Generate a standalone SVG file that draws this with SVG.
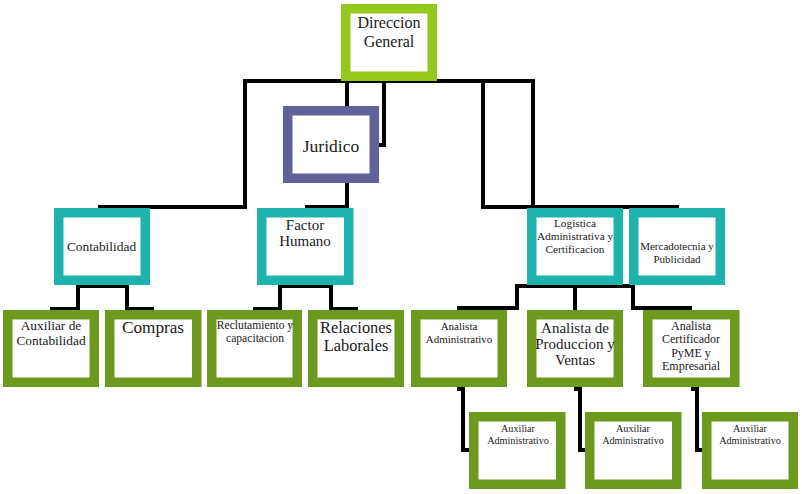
<svg xmlns="http://www.w3.org/2000/svg" width="802" height="494" viewBox="0 0 802 494">
<style>
.box{fill:#ffffff;stroke-width:9.5}
.lime{stroke:#94c81c}
.slate{stroke:#62629a}
.teal{stroke:#1fb3ad}
.olive{stroke:#6b9a1f}
text{font-family:"Liberation Serif","Times New Roman",serif;fill:#1a1a1a;text-anchor:middle}
.conn path{fill:none;stroke:#000;stroke-width:4;stroke-linejoin:miter;stroke-linecap:square}
</style>
<rect x="0" y="0" width="802" height="494" fill="#ffffff"/>
<g class="conn" id="connectors">
<path d="M100 207 H245 V81 H533 V207"/>
<path d="M483 81 V207 H677"/>
<path d="M347 81 V106"/>
<path d="M384 81 V145 H379"/>
<path d="M347 183 V207 H307"/>
<path d="M52 309 H78 V286 H127 V309 H152"/>
<path d="M255 309 H280 V286 H331 V309 H356"/>
<path d="M459 308 H517 V286 H633 V308 H690"/>
<path d="M575 286 V310"/>
<path d="M459 389 H463 V450 H469"/>
<path d="M576 389 H580 V450 H585"/>
<path d="M693 389 H697 V450 H702"/>
</g>
<g id="direccion-general">
<rect class="box lime" x="345.75" y="8.75" width="86.5" height="67.5"/>
<text font-size="16" x="389" y="28">Direccion</text>
<text font-size="16" x="389" y="47">General</text>
</g>
<g id="juridico">
<rect class="box slate" x="287.75" y="110.75" width="86.5" height="67.5"/>
<text font-size="17.5" x="331" y="152">Juridico</text>
</g>
<g id="contabilidad">
<rect class="box teal" x="58.75" y="212.75" width="86.5" height="67.5"/>
<text font-size="13.4" x="101.5" y="251">Contabilidad</text>
</g>
<g id="factor-humano">
<rect class="box teal" x="261.75" y="212.75" width="87" height="67.5"/>
<text font-size="15" x="305" y="230">Factor</text>
<text font-size="15" x="305" y="246">Humano</text>
</g>
<g id="logistica">
<rect class="box teal" x="531.75" y="212.75" width="86.5" height="67.5"/>
<text font-size="11.3" x="575" y="227">Logistica</text>
<text font-size="11.3" x="575" y="240">Administrativa y</text>
<text font-size="11.3" x="575" y="253">Certificacion</text>
</g>
<g id="mercadotecnia">
<rect class="box teal" x="633.75" y="212.75" width="86.5" height="67.5"/>
<text font-size="11" x="677" y="250">Mercadotecnia y</text>
<text font-size="11" x="677" y="263">Publicidad</text>
</g>
<g id="auxiliar-contabilidad">
<rect class="box olive" x="7.75" y="314.75" width="86.5" height="67.5"/>
<text font-size="13.4" x="51" y="330">Auxiliar de</text>
<text font-size="13.4" x="51" y="345">Contabilidad</text>
</g>
<g id="compras">
<rect class="box olive" x="109.75" y="314.75" width="87" height="67.5"/>
<text font-size="17.2" x="153" y="333">Compras</text>
</g>
<g id="reclutamiento">
<rect class="box olive" x="211.75" y="314.75" width="85.5" height="67.5"/>
<text font-size="11.6" x="255" y="329">Reclutamiento y</text>
<text font-size="11.6" x="255" y="342">capacitacion</text>
</g>
<g id="relaciones-laborales">
<rect class="box olive" x="312.75" y="314.75" width="86.5" height="67.5"/>
<text font-size="16.4" x="356" y="333">Relaciones</text>
<text font-size="16.4" x="356" y="351">Laborales</text>
</g>
<g id="analista-administrativo">
<rect class="box olive" x="415.75" y="314.75" width="86.5" height="67.5"/>
<text font-size="11" x="459" y="330">Analista</text>
<text font-size="11" x="459" y="343">Administrativo</text>
</g>
<g id="analista-produccion">
<rect class="box olive" x="531.75" y="314.75" width="86.5" height="67.5"/>
<text font-size="15" x="575" y="333">Analista de</text>
<text font-size="15" x="575" y="349">Produccion y</text>
<text font-size="15" x="575" y="365">Ventas</text>
</g>
<g id="analista-certificador">
<rect class="box olive" x="647.75" y="314.75" width="87" height="67.5"/>
<text font-size="12" x="691" y="330">Analista</text>
<text font-size="12" x="691" y="343">Certificador</text>
<text font-size="12" x="691" y="357">PyME y</text>
<text font-size="12" x="691" y="370">Empresarial</text>
</g>
<g id="auxiliar-administrativo-1">
<rect class="box olive" x="473.75" y="416.75" width="87" height="67.5"/>
<text font-size="10.2" x="518" y="432">Auxiliar</text>
<text font-size="10.2" x="518" y="444">Administrativo</text>
</g>
<g id="auxiliar-administrativo-2">
<rect class="box olive" x="589.75" y="416.75" width="87" height="67.5"/>
<text font-size="10.2" x="633" y="432">Auxiliar</text>
<text font-size="10.2" x="633" y="444">Administrativo</text>
</g>
<g id="auxiliar-administrativo-3">
<rect class="box olive" x="706.75" y="416.75" width="86.5" height="67.5"/>
<text font-size="10.2" x="750" y="432">Auxiliar</text>
<text font-size="10.2" x="750" y="444">Administrativo</text>
</g>
</svg>
